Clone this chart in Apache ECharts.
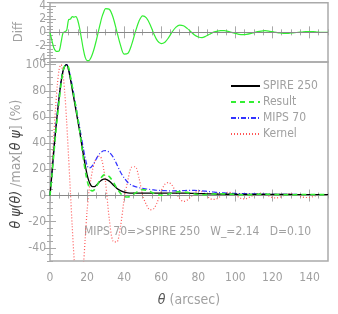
<!DOCTYPE html>
<html><head><meta charset="utf-8">
<script src="https://cdn.jsdelivr.net/npm/echarts@6/dist/echarts.min.js"></script>
<style>html,body{margin:0;padding:0;background:#fff}#c{width:338px;height:314px}</style>
</head><body><div id="c"></div>
<script>
const theta = [0,1,2,3,4,5,6,7,8,9,10,11,12,13,14,15,16,17,18,19,20,21,22,23,24,25,26,27,28,29,30,
32,34,36,38,40,42,44,46,48,50,52,54,56,58,60,62,64,66,68,70,72,74,76,78,80,82,84,86,88,90,92,94,96,98,100,
102,104,106,108,110,112,114,116,118,120,122,124,126,128,130,132,134,136,138,140,142,144,146,148,150];

const spire250 = [0,16,33,49,63,76,87,95,99,100,96,89,81,73,65,57,49,40,31,23,16,11,8,6.8,6.8,7.8,9.3,10.8,12,12.6,12.5,
11,8.3,5.6,3.7,2.6,2.1,1.9,1.9,1.9,1.9,1.9,1.9,1.9,1.9,1.9,1.9,1.9,1.9,1.9,1.9,1.8,1.8,1.7,1.6,1.5,1.4,1.3,1.2,1.2,1.1,1.1,1.0,1.0,1.0,1.0,
0.9,0.9,0.9,0.9,0.9,0.9,0.9,0.8,0.8,0.8,0.8,0.8,0.8,0.8,0.8,0.7,0.7,0.7,0.7,0.7,0.7,0.7,0.7,0.7,0.7];

const result = [0,14.8,30.7,46.2,60.1,73.2,85.5,94.9,99.1,100,97.9,91,83.4,75.3,67.4,58.8,49.6,39,28.4,19.2,11.7,6.7,4.1,3.6,4.5,6.6,9.3,12,14.3,15.7,16.1,
14.5,10.6,5.8,1.8,-0.7,-1.1,0,1.9,3.6,4.4,4.1,3.1,1.7,0.6,0.2,0.4,1.1,2,2.7,3,2.8,2.4,1.8,1.2,0.8,0.6,0.7,0.9,1.2,1.25,1.35,1.25,1.15,1,0.85,
0.6,0.55,0.6,0.7,0.85,1,1.1,1.05,1,0.9,0.8,0.7,0.65,0.65,0.6,0.65,0.7,0.75,0.8,0.8,0.8,0.75,0.7,0.7,0.7];

const mips70 = [0,17,34,50,64,77,88,95,99,100,97,91,84,76,68,60,52,44,36,29,23,21,21.5,23,25.5,28,30.5,32.3,33.5,34.2,34.3,
33,29.5,24,18,13.5,10,8,6.8,6,5.5,5,4.6,4.3,4,3.8,3.7,3.6,3.6,3.6,3.7,3.8,3.9,3.9,3.9,3.8,3.6,3.3,3,2.7,2.4,2.2,2,1.8,1.7,1.6,
1.5,1.4,1.4,1.3,1.3,1.2,1.2,1.1,1.1,1,1,1,0.9,0.9,0.9,0.9,0.8,0.8,0.8,0.8,0.8,0.7,0.7,0.7,0.7];

const kernel = [0,22,45,67,85,97,100,93,78,56,30,3,-24,-48,-66,-76,-78,-70,-54,-33,-12,3,12,20,25,28.5,30,30,27,20,10,
-18,-35,-35.5,-24,-3,11.5,21.6,22,13.5,0,-7,-10.9,-10,-4.6,3.4,8.7,10,7.5,2.5,-2.5,-4.5,-3.5,-1,2,3.5,3,0.5,-2,-3,-2.5,-0.5,1.5,2.5,2,0.5,
-1.5,-2.5,-2.3,-1,0.5,1.5,1.8,1,-0.3,-1.5,-1.8,-1.3,0,1,1.3,1,0,-1,-1.5,-1.5,-0.8,0.2,0.8,0.8,0.4];

const diff = [0,-1.2,-2.3,-2.8,-2.9,-2.8,-1.5,-0.1,0.1,0.3,1.9,2.0,2.4,2.3,2.4,1.8,0.6,-1.0,-2.6,-3.8,-4.3,-4.3,-3.9,-3.2,-2.3,-1.2,0,1.2,2.3,3.1,3.6,
3.5,2.3,0.2,-1.9,-3.3,-3.2,-1.9,0,1.7,2.5,2.2,1.2,-0.2,-1.3,-1.7,-1.5,-0.8,0.1,0.8,1.1,1.0,0.6,0.1,-0.4,-0.7,-0.8,-0.6,-0.3,0,0.15,0.25,0.25,0.15,0,-0.15,
-0.3,-0.35,-0.3,-0.2,-0.05,0.1,0.2,0.25,0.2,0.1,0,-0.1,-0.15,-0.15,-0.1,-0.05,0,0.05,0.1,0.1,0.1,0.05,0,0,0];

const xTicks = [0,20,40,60,80,100,120,140];
const mainYTicks = [-40,-20,0,20,40,60,80,100];
const diffYTicks = [-4,-2,0,2,4];
const seriesNames = ['SPIRE 250','Result','MIPS 70','Kernel'];

const FONT = "'DejaVu Sans Condensed','Liberation Sans',sans-serif";
const GRAY = '#a0a0a0';
const TICK = '#a8a8a8';
const FS = 12;

function pairs(v){ return theta.map((t,i)=>[t,v[i]]); }
function steps(a, b, s){ const r=[]; for(let v=a; v<=b+1e-9; v+=s) r.push(+v.toFixed(4)); return r; }

const xAxes = [], yAxes = [];
function addX(grid, pos, min, max, majors, minors, labels){
  xAxes.push({type:'value', gridIndex:grid, position:pos, min, max,
    axisLine:{show:false}, splitLine:{show:false},
    axisTick:{show:true, inside:true, length:6, customValues:majors, lineStyle:{color:TICK,width:1}},
    axisLabel:{show:labels, customValues:majors, color:GRAY, fontFamily:FONT, fontSize:FS, margin:11, hideOverlap:false}});
  xAxes.push({type:'value', gridIndex:grid, position:pos, min, max,
    axisLine:{show:false}, splitLine:{show:false}, axisLabel:{show:false},
    axisTick:{show:true, inside:true, length:3, customValues:minors, lineStyle:{color:TICK,width:1}}});
}
function addY(grid, pos, min, max, majors, minors, labels, pad){
  yAxes.push({type:'value', gridIndex:grid, position:pos, min, max,
    axisLine:{show:false}, splitLine:{show:false},
    axisTick:{show:true, inside:true, length:6, customValues:majors, lineStyle:{color:TICK,width:1}},
    axisLabel:{show:labels, customValues:majors, color:GRAY, fontFamily:FONT, fontSize:FS, lineHeight:11, margin:4,
      padding:[pad,0,0,0], hideOverlap:false}});
  yAxes.push({type:'value', gridIndex:grid, position:pos, min, max,
    axisLine:{show:false}, splitLine:{show:false}, axisLabel:{show:false},
    axisTick:{show:true, inside:true, length:3, customValues:minors, lineStyle:{color:TICK,width:1}}});
}
const xMinor = steps(0,150,5), diffMinor = steps(-4.5,4.5,0.5), mainMinor = steps(-50,100,5);
// grid 0 (diff panel): x axes 0..3, y axes 0..3
addX(0,'bottom',0,150,xTicks,xMinor,false);
addX(0,'top',0,150,xTicks,xMinor,false);
addY(0,'left',-4.5,4.5,diffYTicks,diffMinor,true,0);
addY(0,'right',-4.5,4.5,diffYTicks,diffMinor,false,0);
// grid 1 (main): x axes 4..7, y axes 4..7
addX(1,'bottom',0,150,xTicks,xMinor,true);
addX(1,'top',0,150,xTicks,xMinor,false);
addY(1,'left',-50,102,mainYTicks,mainMinor,true,5);
addY(1,'right',-50,102,mainYTicks,mainMinor,false,0);

const zeroLine = {silent:true, symbol:'none', label:{show:false},
  lineStyle:{color:'#888', width:1, type:'solid'}, data:[{yAxis:0}]};

const option = {
  animation:false,
  grid:[
    {left:50, top:2, width:278, height:60, show:true, borderColor:'#aaa', borderWidth:1.5, backgroundColor:'transparent'},
    {left:50, top:62, width:278, height:199, show:true, borderColor:'#aaa', borderWidth:1.5, backgroundColor:'transparent'}
  ],
  xAxis:xAxes, yAxis:yAxes,
  legend:{data:seriesNames, orient:'vertical', left:225, top:74, itemWidth:29, itemHeight:10, itemGap:2,
    itemStyle:{opacity:0},
    textStyle:{color:GRAY, fontFamily:FONT, fontSize:FS, lineHeight:14, padding:[0,0,0,-2]}},
  series:[
    {name:'Diff', type:'line', xAxisIndex:0, yAxisIndex:0, data:pairs(diff), symbol:'none', smooth:0.3,
      lineStyle:{color:'#33ee33', width:1.2}, markLine:zeroLine, z:3},
    {name:seriesNames[0], type:'line', xAxisIndex:4, yAxisIndex:4, data:pairs(spire250), symbol:'none', smooth:0.3,
      itemStyle:{color:'#000'}, lineStyle:{color:'#000', width:1.3}, markLine:zeroLine, z:4},
    {name:seriesNames[1], type:'line', xAxisIndex:4, yAxisIndex:4, data:pairs(result), symbol:'none', smooth:0.3,
      itemStyle:{color:'#33ee33'}, lineStyle:{color:'#33ee33', width:1.6, type:[5,4]}, z:5},
    {name:seriesNames[2], type:'line', xAxisIndex:4, yAxisIndex:4, data:pairs(mips70), symbol:'none', smooth:0.3,
      itemStyle:{color:'#3333ff'}, lineStyle:{color:'#3333ff', width:1.2, type:[5,2,1,2]}, z:3},
    {name:seriesNames[3], type:'line', xAxisIndex:4, yAxisIndex:4, data:pairs(kernel), symbol:'none', smooth:0.3,
      itemStyle:{color:'#ff5555'}, lineStyle:{color:'#ff5555', width:1.2, type:[1,2]}, z:2}
  ],
  graphic:[
    {type:'text', x:19, y:32, rotation:Math.PI/2, style:{text:'Diff', fill:GRAY, font:'13px '+FONT, align:'center', verticalAlign:'middle'}},
    {type:'text', x:16, y:164, rotation:Math.PI/2, style:{
      text:'{g|θ ψ(θ)} /max[{g|θ ψ}] (%)', fill:GRAY, font:'14px '+FONT, align:'center', verticalAlign:'middle',
      rich:{g:{fill:'#444', font:'italic 14px '+FONT}}}},
    {type:'text', x:189, y:300, style:{
      text:'{g|θ} (arcsec)', fill:GRAY, font:'14px '+FONT, align:'center', verticalAlign:'middle',
      rich:{g:{fill:'#555', font:'italic 14px '+FONT}}}},
    {type:'text', x:84, y:232, style:{text:'MIPS 70=>SPIRE 250   W_=2.14   D=0.10', fill:GRAY, font:FS+'px '+FONT, align:'left', verticalAlign:'middle'}}
  ]
};
const chart = echarts.init(document.getElementById('c'), null, {renderer:'canvas'});
chart.setOption(option);
</script></body></html>
